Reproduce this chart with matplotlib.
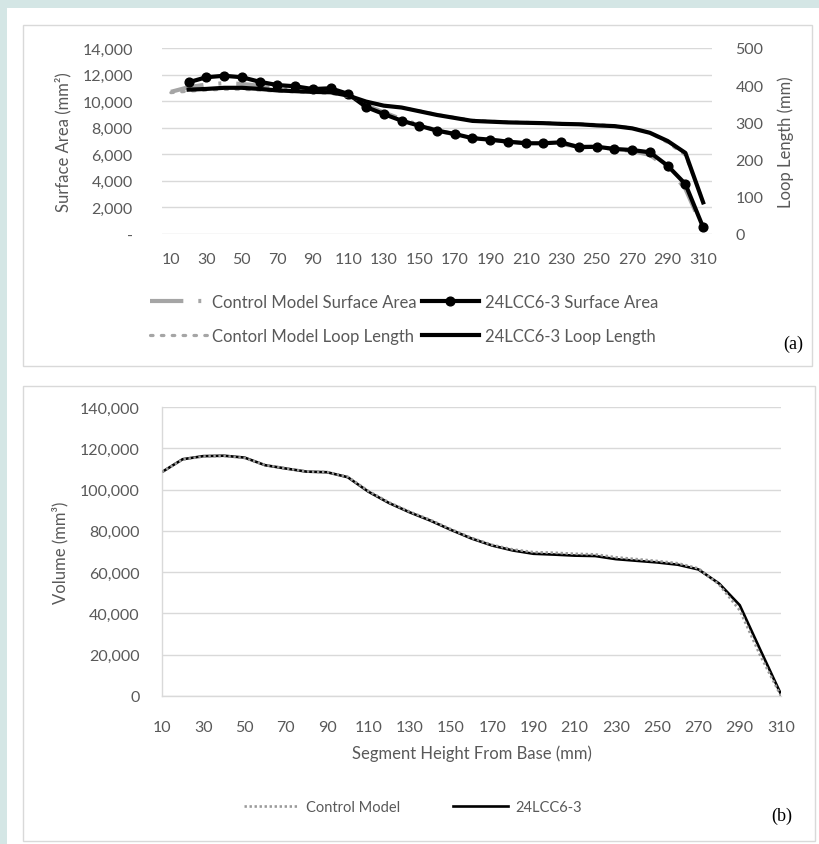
import numpy as np
import matplotlib
matplotlib.use("Agg")
import matplotlib.pyplot as plt
from matplotlib.patches import Rectangle
from matplotlib.ticker import FuncFormatter

plt.rcParams['font.family'] = ['Lato', 'DejaVu Sans']

# ---------------- data ----------------
heights = [10, 20, 30, 40, 50, 60, 70, 80, 90, 100, 110, 120, 130, 140, 150, 160,
           170, 180, 190, 200, 210, 220, 230, 240, 250, 260, 270, 280, 290, 300, 310]
tick_heights = [10, 30, 50, 70, 90, 110, 130, 150, 170, 190, 210, 230, 250, 270, 290, 310]

control_sa = [10700, 11050, 11250, 11350, 11300, 11150, 11000, 10900, 10800, 10750, 10350,
              9700, 9150, 8650, 8200, 7800, 7500, 7250, 7100, 6950, 6850, 6800, 6750, 6600,
              6550, 6400, 6250, 5950, 5000, 3400, 400]
lcc_sa = [np.nan, 11420, 11800, 11910, 11800, 11460, 11210, 11120, 10910, 10970, 10540,
          9560, 9030, 8530, 8150, 7780, 7530, 7210, 7100, 6950, 6830, 6830, 6900, 6530,
          6570, 6400, 6320, 6150, 5140, 3760, 500]
control_ll = [380, 384, 387, 389, 389, 387, 384, 382, 380, 378, 370, 356, 346, 340, 331,
              321, 313, 306, 303, 301, 300, 299, 297, 296, 294, 291, 285, 272, 246, 212, 88]
lcc_ll = [np.nan, 388, 390, 393, 393, 390, 386, 384, 382, 381, 372, 356, 345, 340, 330,
          320, 312, 304, 302, 300, 299, 298, 296, 295, 292, 290, 284, 272, 250, 218, 85]

control_vol = [108500, 114600, 116000, 116300, 115300, 111900, 110300, 108800, 108500,
               106200, 99300, 93800, 89300, 85300, 80800, 76600, 73200, 71000, 69700,
               69400, 68900, 68600, 67200, 66300, 65400, 64300, 61800, 54000, 41500,
               19500, 0]
lcc_vol = [108500, 114700, 116200, 116400, 115500, 111800, 110200, 108700, 108400, 106000,
           99000, 93500, 89000, 85000, 80500, 76300, 72900, 70500, 68900, 68500, 68000,
           67800, 66300, 65500, 64700, 63600, 61300, 54500, 44000, 22300, 800]

# ---------------- figure ----------------
W, H = 820, 845
fig = plt.figure(figsize=(W / 100, H / 100), dpi=100, facecolor='#d4e6e5')

def fx(px):
    return px / W

def fy(py):
    return 1 - py / H

# white card and panel borders
fig.patches.append(Rectangle((fx(7), 0), 1 - fx(7), fy(9), transform=fig.transFigure,
                             facecolor='white', edgecolor='none', zorder=-10))
fig.patches.append(Rectangle((fx(23), fy(367)), fx(812) - fx(23), fy(26) - fy(367),
                             transform=fig.transFigure, facecolor='white',
                             edgecolor='#d9d9d9', lw=1.0, zorder=-9))
fig.patches.append(Rectangle((fx(23), fy(842)), fx(815) - fx(23), fy(387) - fy(842),
                             transform=fig.transFigure, facecolor='white',
                             edgecolor='#d9d9d9', lw=1.0, zorder=-9))

tick_color = '#595959'
grid_color = '#d9d9d9'
gray = '#a5a5a5'

# ---------------- panel (a) ----------------
ax1 = fig.add_axes([fx(162), fy(235), fx(712) - fx(162), fy(49) - fy(235)])
ax1.set_facecolor('none')
ax2 = ax1.twinx()

sa_ls = (0, (8.0, 3.6, 0.7, 3.6))
ll_ls = (0, (0.8, 2.6))

l_csa, = ax1.plot(heights, control_sa, color=gray, lw=3.0, linestyle=sa_ls,
                  solid_capstyle='butt', dash_capstyle='butt', zorder=2)
l_lsa, = ax1.plot(heights, lcc_sa, color='black', lw=3.0, marker='o', ms=6.3,
                  zorder=3)
l_cll, = ax2.plot(heights, control_ll, color=gray, lw=2.3, linestyle=ll_ls,
                  dash_capstyle='round', zorder=2)
l_lll, = ax2.plot(heights, lcc_ll, color='black', lw=3.0, zorder=3)

ax1.set_xlim(5, 315)
ax1.set_ylim(0, 14000)
ax2.set_ylim(0, 500)
ax1.set_xticks(tick_heights)
ax1.set_yticks(np.arange(0, 14001, 2000))
ax2.set_yticks(np.arange(0, 501, 100))
ax1.yaxis.set_major_formatter(FuncFormatter(lambda v, p: '-' if v == 0 else f'{int(v):,}'))
ax1.grid(axis='y', color=grid_color, lw=1.0)
ax1.set_axisbelow(True)
for a in (ax1, ax2):
    for s in a.spines.values():
        s.set_visible(False)
    a.tick_params(length=0, colors=tick_color, labelsize=11.5)
ax1.tick_params(axis='y', pad=21)
ax1.tick_params(axis='x', pad=13)
ax2.tick_params(axis='y', pad=17)
ax1.set_ylabel('Surface Area (mm²)', color=tick_color, fontsize=12, labelpad=8)
ax2.set_ylabel('Loop Length (mm)', color=tick_color, fontsize=12, labelpad=10)

leg1 = fig.legend([l_csa, l_cll, l_lsa, l_lll],
                  ['Control Model Surface Area', 'Contorl Model Loop Length',
                   '24LCC6-3 Surface Area', '24LCC6-3 Loop Length'],
                  ncol=2, loc='center', bbox_to_anchor=(fx(404), fy(320)),
                  frameon=False, fontsize=12, handlelength=3.4, handletextpad=0.35,
                  columnspacing=0.3, labelspacing=1.05, numpoints=1)
for t in leg1.get_texts():
    t.set_color(tick_color)

fig.text(fx(793), fy(344), '(a)', family=['Liberation Serif', 'DejaVu Serif'],
         fontsize=13, ha='center', va='center', color='black')

# ---------------- panel (b) ----------------
ax3 = fig.add_axes([fx(162), fy(697), fx(781) - fx(162), fy(408) - fy(697)])
ax3.set_facecolor('none')
l_cv, = ax3.plot(heights, control_vol, color='#9a9a9a', lw=1.9, linestyle=(0, (0.9, 1.0)),
                 zorder=3)
l_lv, = ax3.plot(heights, lcc_vol, color='black', lw=1.9, zorder=2)
ax3.set_xlim(10, 310)
ax3.set_ylim(0, 140000)
ax3.set_xticks(tick_heights)
ax3.set_yticks(np.arange(0, 140001, 20000))
ax3.yaxis.set_major_formatter(FuncFormatter(lambda v, p: f'{int(v):,}'))
ax3.grid(axis='y', color=grid_color, lw=1.0)
ax3.set_axisbelow(True)
for k, s in ax3.spines.items():
    if k in ('left', 'bottom'):
        s.set_color(grid_color)
        s.set_linewidth(1.0)
    else:
        s.set_visible(False)
ax3.tick_params(length=0, colors=tick_color, labelsize=11.5)
ax3.tick_params(axis='y', pad=16)
ax3.tick_params(axis='x', pad=17)
ax3.set_ylabel('Volume (mm³)', color=tick_color, fontsize=12, labelpad=8)
ax3.set_xlabel('Segment Height From Base (mm)', color=tick_color, fontsize=12, labelpad=8)

leg2 = fig.legend([l_cv, l_lv], ['Control Model', '24LCC6-3'], ncol=2, loc='center',
                  bbox_to_anchor=(fx(413), fy(808)), frameon=False, fontsize=10.5,
                  handlelength=3.8, handletextpad=0.5, columnspacing=3.6)
for t in leg2.get_texts():
    t.set_color(tick_color)

fig.text(fx(782), fy(816), '(b)', family=['Liberation Serif', 'DejaVu Serif'],
         fontsize=13, ha='center', va='center', color='black')

fig.savefig('out.png', dpi=100, facecolor=fig.get_facecolor())
